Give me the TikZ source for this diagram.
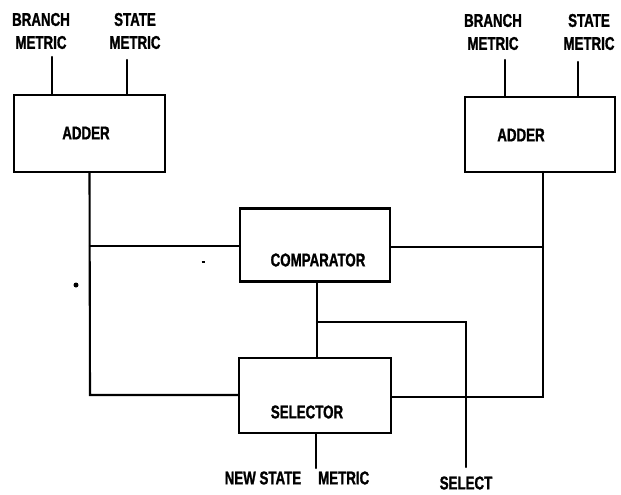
\documentclass[tikz,border=0pt]{standalone}
\usepackage{fontspec}
\newfontfamily\lbl{Liberation Sans}[FakeStretch=0.72,FakeBold=1.2]
\begin{document}
\begin{tikzpicture}[x=1pt,y=-1pt,
  wire/.style={line width=2.1pt,line cap=round},
  blk/.style={draw,line width=2.1pt,minimum width=#1,inner sep=0pt},
  txt/.style={font=\lbl\bfseries\fontsize{18.5}{20}\selectfont,inner sep=0pt,align=center},
  lab/.style={font=\lbl\bfseries\fontsize{18.5}{23}\selectfont,inner sep=0pt,align=center}]
\useasboundingbox (0,0) rectangle (621,495);
% boxes
\node[blk=151pt,minimum height=77pt] (ladd) at (89.5,133.5) {};
\node[blk=150pt,minimum height=75pt] (radd) at (540,134.5) {};
\node[blk=150pt,minimum height=73pt] (comp) at (315,245) {};
\node[blk=152pt,minimum height=75pt] (sel) at (315,395.5) {};
% box texts
\node[txt] (laddt) at (86,133) {ADDER};
\node[txt] (raddt) at (521,135) {ADDER};
\node[txt] (compt) at (318,260) {COMPARATOR};
\node[txt] (selt) at (307,412) {SELECTOR};
% input labels
\node[lab] (lbr) at (41,31) {BRANCH\\METRIC};
\node[lab] (lst) at (135,31) {STATE\\METRIC};
\node[lab] (rbr) at (493,32) {BRANCH\\METRIC};
\node[lab] (rst) at (589,32) {STATE\\METRIC};
\node[lab] (nsm) at (297,478) {NEW STATE\hspace{17pt}METRIC};
\node[lab] (selo) at (466,483) {SELECT};
% coordinates
\coordinate (lbrin) at (52,57);
\coordinate (lstin) at (127,60);
\coordinate (rbrin) at (505,60);
\coordinate (rstin) at (578,62);
\coordinate (lj1) at (90,246);
\coordinate (lj2) at (90,395);
\coordinate (rj0) at (543,172);
\coordinate (rj1) at (543,247);
\coordinate (rj2) at (543,397);
\coordinate (sj) at (317,322);
\coordinate (sc) at (466,322);
\coordinate (sout) at (466,467);
\coordinate (nout) at (316,468);
% wires
\draw[wire] (lbrin) -- (lbrin |- ladd.north);
\draw[wire] (lstin) -- (lstin |- ladd.north);
\draw[wire] (rbrin) -- (rbrin |- radd.north);
\draw[wire] (rstin) -- (rstin |- radd.north);
\draw[wire] (ladd.south) -- (lj2) -- (lj2 -| sel.west);
\draw[wire] (lj1) -- (lj1 -| comp.west);
\draw[wire] (rj0) -- (rj2) -- (rj2 -| sel.east);
\draw[wire] (rj1) -- (rj1 -| comp.east);
\draw[wire] (sj |- comp.south) -- (sj |- sel.north);
\draw[wire] (sj) -- (sc) -- (sout);
\draw[wire] (nout |- sel.south) -- (nout);
% specks
\fill (76,285) circle (2.5pt);
\draw[line width=1.6pt] (201.5,262) -- (204.5,262);
\end{tikzpicture}
\end{document}
